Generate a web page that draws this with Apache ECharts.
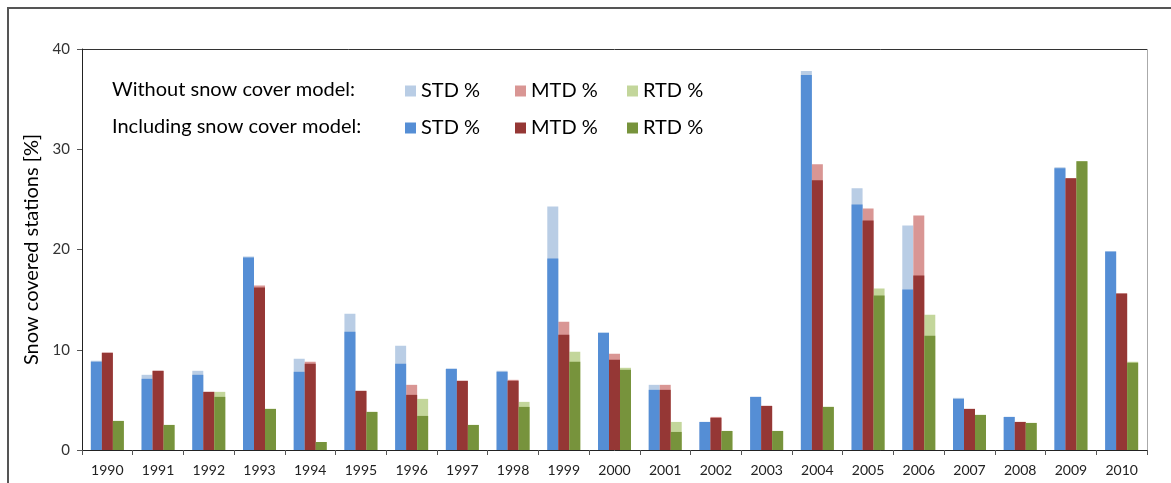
<!DOCTYPE html>
<html>
<head>
<meta charset="utf-8">
<script src="https://cdn.jsdelivr.net/npm/echarts@6/dist/echarts.min.js"></script>
<style>
  html, body { margin: 0; padding: 0; background: #fff; }
  #chart { width: 1171px; height: 483px; }
</style>
</head>
<body>
<div id="chart"></div>
<script>
const years = ['1990','1991','1992','1993','1994','1995','1996','1997','1998','1999','2000',
               '2001','2002','2003','2004','2005','2006','2007','2008','2009','2010'];

// Without snow cover model (light bars)
const stdWithout = [8.9, 7.5, 7.9, 19.3, 9.1, 13.6, 10.4, 8.1, 7.9, 24.3, 11.7,
                    6.5, 2.8, 5.3, 37.8, 26.1, 22.4, 5.2, 3.3, 28.2, 19.8];
const mtdWithout = [9.7, 7.9, 5.8, 16.4, 8.8, 5.9, 6.5, 6.9, 7.0, 12.8, 9.6,
                    6.5, 3.3, 4.4, 28.5, 24.1, 23.4, 4.1, 2.8, 27.1, 15.6];
const rtdWithout = [2.9, 2.5, 5.8, 4.1, 0.8, 3.8, 5.1, 2.5, 4.8, 9.8, 8.2,
                    2.8, 1.9, 1.9, 4.3, 16.1, 13.5, 3.5, 2.7, 28.8, 8.8];

// Including snow cover model (dark bars)
const stdWith = [8.8, 7.1, 7.5, 19.2, 7.8, 11.8, 8.6, 8.1, 7.8, 19.1, 11.7,
                 6.0, 2.8, 5.3, 37.4, 24.5, 16.0, 5.1, 3.3, 28.1, 19.8];
const mtdWith = [9.7, 7.9, 5.8, 16.2, 8.6, 5.9, 5.5, 6.9, 6.9, 11.5, 9.0,
                 6.0, 3.2, 4.4, 26.9, 22.9, 17.4, 4.1, 2.8, 27.1, 15.6];
const rtdWith = [2.9, 2.5, 5.3, 4.1, 0.8, 3.8, 3.4, 2.5, 4.3, 8.8, 8.0,
                 1.8, 1.9, 1.9, 4.3, 15.4, 11.4, 3.5, 2.7, 28.8, 8.7];

const yTicks = [0, 10, 20, 30, 40];

const colors = {
  stdLight: '#B9CDE5', mtdLight: '#D99694', rtdLight: '#C3D69B',
  stdDark: '#558ED5',  mtdDark: '#953735',  rtdDark: '#77933C'
};

const FONT = 'Lato, "Open Sans", sans-serif';
const chart = echarts.init(document.getElementById('chart'));

function bar(name, data, color, axis, z) {
  return {
    name: name,
    type: 'bar',
    xAxisIndex: axis,
    data: data,
    barWidth: 11,
    barGap: '0%',
    z: z,
    itemStyle: { color: color },
    emphasis: { disabled: true }
  };
}

// one legend entry per column so the three columns line up in both rows
function legendEntry(name, left, top) {
  return {
    left: left,
    top: top,
    padding: 0,
    itemWidth: 11,
    itemHeight: 11,
    itemGap: 0,
    icon: 'rect',
    selectedMode: false,
    data: [name],
    formatter: n => n.split(' |')[0],
    textStyle: { fontFamily: FONT, fontSize: 20, color: '#000' }
  };
}

const legendCols = [405, 515, 627];
const legendRows = [81, 118];

chart.setOption({
  animation: false,
  backgroundColor: '#fff',
  grid: { left: 82, right: 24, top: 49, bottom: 33 },
  legend: [
    legendEntry('STD % |w', legendCols[0], legendRows[0]),
    legendEntry('MTD % |w', legendCols[1], legendRows[0]),
    legendEntry('RTD % |w', legendCols[2], legendRows[0]),
    legendEntry('STD % |i', legendCols[0], legendRows[1]),
    legendEntry('MTD % |i', legendCols[1], legendRows[1]),
    legendEntry('RTD % |i', legendCols[2], legendRows[1])
  ],
  xAxis: [
    {
      type: 'category',
      data: years,
      axisLine: { lineStyle: { color: '#222', width: 1 } },
      axisTick: { show: true, alignWithLabel: false, length: 5, lineStyle: { color: '#555' } },
      axisLabel: { fontFamily: FONT, fontSize: 14, color: '#222', margin: 13 },
      splitLine: { show: false }
    },
    {
      type: 'category',
      data: years,
      show: false
    }
  ],
  yAxis: {
    type: 'value',
    min: yTicks[0],
    max: yTicks[yTicks.length - 1],
    interval: 10,
    name: 'Snow covered stations [%]',
    nameLocation: 'middle',
    nameGap: 40,
    nameTextStyle: { fontFamily: FONT, fontSize: 20, color: '#000' },
    axisLine: { show: true, lineStyle: { color: '#222' } },
    axisTick: { show: true, length: 5, lineStyle: { color: '#555' } },
    axisLabel: { fontFamily: FONT, fontSize: 15, color: '#333', margin: 12 },
    splitLine: { show: false }
  },
  graphic: [
    // outer frame of the figure
    { type: 'rect', shape: { x: 8, y: 8, width: 1200, height: 520 },
      style: { fill: 'none', stroke: '#555', lineWidth: 2 }, silent: true },
    // plot area top and right edges
    { type: 'line', shape: { x1: 82, y1: 49.5, x2: 1147, y2: 49.5 },
      style: { stroke: '#333', lineWidth: 1 }, silent: true },
    { type: 'line', shape: { x1: 1147.5, y1: 49, x2: 1147.5, y2: 450 },
      style: { stroke: '#aaa', lineWidth: 1 }, silent: true },
    { type: 'text', left: 112, top: 80,
      style: { text: 'Without snow cover model:', fontFamily: FONT, fontSize: 20, fill: '#000' } },
    { type: 'text', left: 112, top: 117,
      style: { text: 'Including snow cover model:', fontFamily: FONT, fontSize: 20, fill: '#000' } }
  ],
  series: [
    bar('STD % |w', stdWithout, colors.stdLight, 0, 2),
    bar('MTD % |w', mtdWithout, colors.mtdLight, 0, 2),
    bar('RTD % |w', rtdWithout, colors.rtdLight, 0, 2),
    bar('STD % |i', stdWith, colors.stdDark, 1, 3),
    bar('MTD % |i', mtdWith, colors.mtdDark, 1, 3),
    bar('RTD % |i', rtdWith, colors.rtdDark, 1, 3)
  ]
});
</script>
</body>
</html>
